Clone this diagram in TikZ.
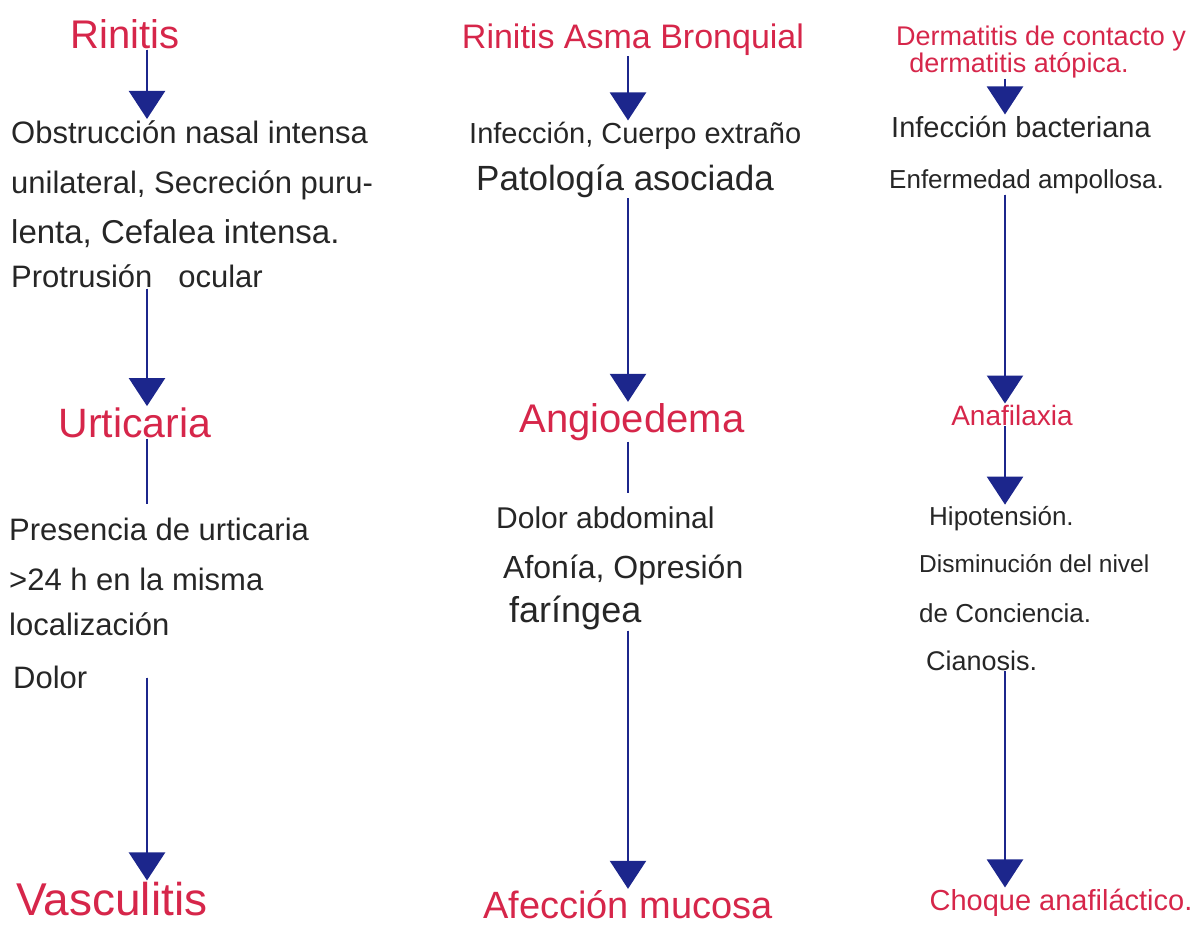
\documentclass[tikz,border=0pt]{standalone}
\usepackage{fontspec}
\setmainfont{Liberation Sans}
\usetikzlibrary{arrows.meta}
\definecolor{titlered}{RGB}{214,38,74}
\definecolor{ink}{RGB}{38,38,38}
\definecolor{penblue}{RGB}{28,38,140}
\tikzset{
  ttl/.style={text=titlered, inner sep=1pt, anchor=base},
  body/.style={text=ink, inner sep=1pt, anchor=base west, font=\fontsize{31}{37}\selectfont},
  smallbody/.style={text=ink, inner sep=1pt, anchor=base west, font=\fontsize{26}{31}\selectfont},
  conn/.style={draw=penblue, line width=2.4pt},
  arr/.style={conn, -{Triangle[width=36pt,length=28pt]}, fill=penblue}
}
\begin{document}
\begin{tikzpicture}[x=1pt,y=-1pt]
\useasboundingbox (0,0) rectangle (1196,924);
\coordinate (col1) at (147,0);
\coordinate (col2) at (628,0);
\coordinate (col3) at (1005,0);

% ---------- column 1 ----------
\node[ttl, font=\fontsize{40}{48}\selectfont] (t1) at (125,48) {Rinitis};
\node[body] (b1a) at (10,143) {Obstrucción nasal intensa};
\node[body] (b1b) at (10,193) {unilateral, Secreción puru-};
\node[body, font=\fontsize{33}{40}\selectfont] (b1c) at (10,243) {lenta, Cefalea intensa.};
\node[body] (b1d) at (10,287) {Protrusión~~ ocular};
\node[ttl, font=\fontsize{41}{49}\selectfont] (u1) at (135,437) {Urticaria};
\node[body] (p1a) at (8,540) {Presencia de urticaria};
\node[body] (p1b) at (8,590) {>24 h en la misma};
\node[body] (p1c) at (8,635) {localización};
\node[body] (p1d) at (12,688) {Dolor};
\node[ttl, font=\fontsize{46}{55}\selectfont] (v1) at (112,915) {Vasculitis};

\draw[arr] (t1.south -| col1) -- (b1a.north -| col1);
\draw[arr] (b1d.south -| col1) -- (u1.north -| col1);
\draw[conn] (u1.south -| col1) -- ([yshift=12pt]p1a.north -| col1);
\draw[arr] ([yshift=12pt]p1d.south -| col1) -- (v1.north -| col1);

% ---------- column 2 ----------
\node[ttl, font=\fontsize{34}{41}\selectfont] (t2) at (633,48) {Rinitis Asma Bronquial};
\node[body, font=\fontsize{29}{35}\selectfont] (i2a) at (468,143) {Infección, Cuerpo extraño};
\node[body, font=\fontsize{35}{42}\selectfont] (i2b) at (475,190) {Patología asociada};
\node[ttl, font=\fontsize{40}{48}\selectfont] (a2) at (632,432) {Angioedema};
\node[body, font=\fontsize{30}{36}\selectfont] (d2a) at (495,528) {Dolor abdominal};
\node[body, font=\fontsize{32}{38}\selectfont] (d2b) at (502,578) {Afonía, Opresión};
\node[body, font=\fontsize{36}{43}\selectfont] (d2c) at (508,622) {faríngea};
\node[ttl, font=\fontsize{38}{46}\selectfont] (m2) at (628,918) {Afección mucosa};

\draw[arr] (t2.south -| col2) -- (i2a.north -| col2);
\draw[arr] (i2b.south -| col2) -- (a2.north -| col2);
\draw[conn] (a2.south -| col2) -- ([yshift=12pt]d2a.north -| col2);
\draw[arr] (d2c.south -| col2) -- (m2.north -| col2);

% ---------- column 3 ----------
\node[ttl, font=\fontsize{27}{32}\selectfont] (t3a) at (1041,45) {Dermatitis de contacto y};
\node[ttl, font=\fontsize{27}{32}\selectfont] (t3b) at (1019,72) {dermatitis atópica.};
\node[smallbody, font=\fontsize{29}{35}\selectfont] (i3a) at (890,137) {Infección bacteriana};
\node[smallbody] (i3b) at (888,188) {Enfermedad ampollosa.};
\node[ttl, font=\fontsize{28}{34}\selectfont] (an3) at (1012,425) {Anafilaxia};
\node[smallbody] (h3a) at (928,525) {Hipotensión.};
\node[smallbody, font=\fontsize{24.5}{30}\selectfont] (h3b) at (918,572) {Disminución del nivel};
\node[smallbody] (h3c) at (918,622) {de Conciencia.};
\node[smallbody, font=\fontsize{27}{32}\selectfont] (h3d) at (925,670) {Cianosis.};
\node[ttl, font=\fontsize{29}{35}\selectfont] (ch3) at (1061,910) {Choque anafiláctico.};

\draw[arr] (t3b.south -| col3) -- (i3a.north -| col3);
\draw[arr] (i3b.south -| col3) -- (an3.north -| col3);
\draw[arr] (an3.south -| col3) -- (h3a.north -| col3);
\draw[arr] (h3d.south -| col3) -- (ch3.north -| col3);
\end{tikzpicture}
\end{document}
